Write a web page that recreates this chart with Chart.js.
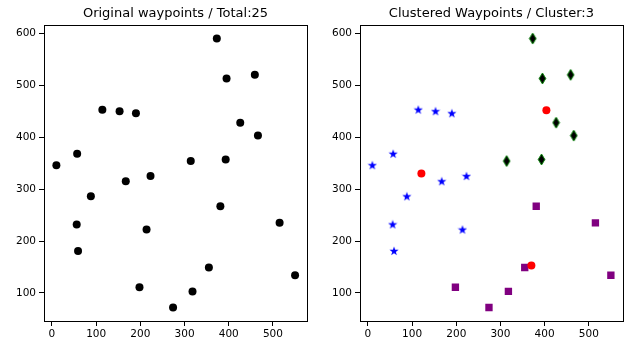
<!DOCTYPE html>
<html>
<head>
<meta charset="utf-8">
<script src="https://cdn.jsdelivr.net/npm/chart.js@4/dist/chart.umd.min.js"></script>
<style>
  body { margin: 0; background: #fff; }
  #wrap { position: relative; width: 628px; height: 344px; background: #fff; }
  .panel { position: absolute; top: 0; width: 314px; height: 344px; }
</style>
</head>
<body>
<div id="wrap">
  <div class="panel" style="left:0"><canvas id="left" width="314" height="344"></canvas></div>
  <div class="panel" style="left:314px"><canvas id="right" width="314" height="344"></canvas></div>
</div>
<script>
// waypoints, grouped by the cluster they fall into
const starX = [10, 57, 114, 153, 190, 167, 223, 88, 56, 59, 214];
const starY = [346, 368, 453, 450, 446, 315, 325, 286, 232, 181, 222];
const diamondX = [314, 373, 395, 459, 426, 466, 393];
const diamondY = [354, 590, 513, 520, 428, 403, 357];
const squareX = [198, 274, 318, 355, 381, 515, 550];
const squareY = [111, 72, 103, 149, 267, 235, 134];
const centerX = [121, 404, 370];
const centerY = [330, 452, 153];

const xTicks = [0, 100, 200, 300, 400, 500];
const yTicks = [100, 200, 300, 400, 500, 600];

const leftTitle = 'Original waypoints / Total:25';
const rightTitle = 'Clustered Waypoints / Cluster:3';

const fontType = 'DejaVu Sans';

function pts(xs, ys) {
  return xs.map((x, i) => ({ x: x, y: ys[i] }));
}

// filled marker images (chart.js star is only lines)
function makeStar() {
  let c = document.createElement('canvas');
  c.width = 10; c.height = 10;
  let g = c.getContext('2d');
  g.beginPath();
  for (let i = 0; i < 10; i++) {
    let r = i % 2 == 0 ? 4.8 : 1.9;
    let a = -Math.PI / 2 + i * Math.PI / 5;
    let px = 5 + r * Math.cos(a), py = 5.3 + r * Math.sin(a);
    if (i == 0) g.moveTo(px, py); else g.lineTo(px, py);
  }
  g.closePath();
  g.fillStyle = '#0000ff';
  g.fill();
  return c;
}

function makeDiamond() {
  let c = document.createElement('canvas');
  c.width = 9; c.height = 13;
  let g = c.getContext('2d');
  g.beginPath();
  g.moveTo(4.5, 1);
  g.lineTo(7.8, 6.5);
  g.lineTo(4.5, 12);
  g.lineTo(1.2, 6.5);
  g.closePath();
  g.fillStyle = '#000';
  g.fill();
  g.strokeStyle = '#008000';
  g.lineWidth = 1;
  g.stroke();
  return c;
}

const boxPlugin = {
  id: 'box',
  afterDraw(chart) {
    let a = chart.chartArea;
    let ctx = chart.ctx;
    ctx.save();
    ctx.strokeStyle = '#000';
    ctx.lineWidth = 1;
    ctx.strokeRect(Math.round(a.left) + 0.5, Math.round(a.top) + 0.5,
      Math.round(a.right - a.left), Math.round(a.bottom - a.top));
    ctx.restore();
  }
};

function makeOptions(title, yWidth, padRight) {
  return {
    responsive: false,
    animation: false,
    layout: { padding: { left: 0, right: padRight, top: 0, bottom: 0 } },
    plugins: {
      legend: { display: false },
      tooltip: { enabled: false },
      title: {
        display: true,
        fullSize: false,
        text: title,
        color: '#000',
        font: { family: fontType, size: 13, weight: 'normal' },
        padding: { top: 6, bottom: 3.4 }
      }
    },
    scales: {
      x: {
        type: 'linear',
        min: -18,
        max: 577,
        afterBuildTicks: (s) => { s.ticks = xTicks.map(v => ({ value: v })); },
        afterFit: (s) => { s.height = 23; },
        grid: { drawOnChartArea: false, drawTicks: true, tickLength: 5, tickColor: '#000' },
        border: { display: false },
        ticks: { color: '#000', padding: 2, maxRotation: 0, font: { family: fontType, size: 10.5 } }
      },
      y: {
        type: 'linear',
        min: 46,
        max: 616,
        afterBuildTicks: (s) => { s.ticks = yTicks.map(v => ({ value: v })); },
        afterFit: (s) => { s.width = yWidth; },
        grid: { drawOnChartArea: false, drawTicks: true, tickLength: 5, tickColor: '#000' },
        border: { display: false },
        ticks: { color: '#000', padding: 3, font: { family: fontType, size: 10.5 } }
      }
    }
  };
}

window.addEventListener('DOMContentLoaded', () => {
  let allX = starX.concat(diamondX, squareX);
  let allY = starY.concat(diamondY, squareY);

  new Chart(document.querySelector('#left'), {
    type: 'scatter',
    data: {
      datasets: [{
        data: pts(allX, allY),
        pointStyle: 'circle',
        pointRadius: 4,
        backgroundColor: '#000',
        borderColor: '#000',
        borderWidth: 0
      }]
    },
    options: makeOptions(leftTitle, 44, 7),
    plugins: [boxPlugin]
  });

  let star = makeStar();
  let diamond = makeDiamond();

  new Chart(document.querySelector('#right'), {
    type: 'scatter',
    data: {
      datasets: [
        {
          data: pts(centerX, centerY),
          order: 0,
          pointStyle: 'circle',
          pointRadius: 4,
          backgroundColor: '#ff0000',
          borderWidth: 0
        },
        {
          data: pts(starX, starY),
          order: 1,
          pointStyle: star,
          pointRadius: 5,
          borderWidth: 0
        },
        {
          data: pts(diamondX, diamondY),
          order: 2,
          pointStyle: diamond,
          pointRadius: 5,
          borderWidth: 0
        },
        {
          data: pts(squareX, squareY),
          order: 3,
          pointStyle: 'rect',
          pointRadius: 5.2,
          backgroundColor: '#800080',
          borderWidth: 0
        }
      ]
    },
    options: makeOptions(rightTitle, 46, 5),
    plugins: [boxPlugin]
  });
});
</script>
</body>
</html>
